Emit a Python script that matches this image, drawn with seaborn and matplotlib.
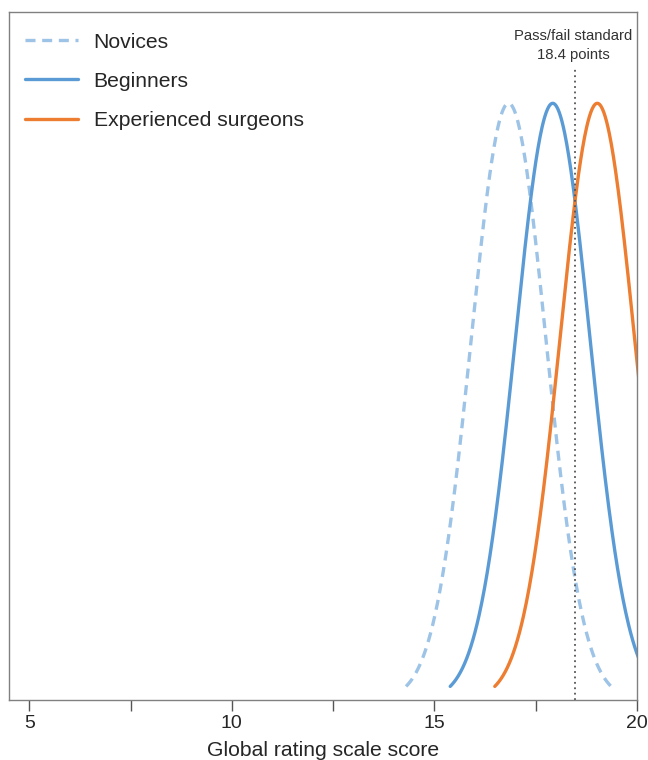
import numpy as np
import pandas as pd
import matplotlib.pyplot as plt
import seaborn as sns

# group score distributions (normal curves, mean / SD)
groups = ["Novices", "Beginners", "Experienced surgeons"]
means = [16.83, 17.92, 19.02]
sds = [0.92, 0.92, 0.92]
half_span = 2.53

pass_fail = 18.48
x_ticks = [5, 10, 15, 20]
x_minor = [7.5, 12.5, 17.5]

colors = {"Novices": "#9DC3E6", "Beginners": "#5B9BD5", "Experienced surgeons": "#ED7D31"}

rows = []
for g, m, s in zip(groups, means, sds):
    xs = np.linspace(m - half_span, m + half_span, 300)
    ys = np.exp(-0.5 * ((xs - m) / s) ** 2) / (s * np.sqrt(2 * np.pi))
    rows.append(pd.DataFrame({"score": xs, "density": ys, "group": g}))
df = pd.concat(rows, ignore_index=True)

sns.set_style("white")
plt.rcParams["font.family"] = ["Liberation Sans", "DejaVu Sans"]

fig = plt.figure(figsize=(6.48, 7.6), dpi=100)
ax = fig.add_axes([9 / 648, 1 - 700 / 760, 628 / 648, 688 / 760])

sns.lineplot(
    data=df, x="score", y="density", hue="group", style="group",
    hue_order=groups, style_order=groups, palette=colors,
    dashes={"Novices": (3, 2), "Beginners": "", "Experienced surgeons": ""},
    linewidth=2.4, ax=ax, sort=False, estimator=None,
)

ax.plot([pass_fail, pass_fail], [0, 0.459], color="#555555", lw=1.3,
        linestyle=(0, (1, 2)), clip_on=False)
ax.text(pass_fail - 0.05, 0.464, "Pass/fail standard\n18.4 points", ha="center",
        va="bottom", fontsize=10.7, color="#333333", linespacing=1.4)

ax.set_xlim(4.5, 20)
ax.set_ylim(0, 0.5)
ax.set_xticks(x_ticks)
ax.set_xticks(x_minor, minor=True)
ax.set_yticks([])
ax.tick_params(axis="x", which="both", direction="out", length=8, width=1,
               color="#555555", labelsize=14, pad=3, bottom=True)
for sp in ax.spines.values():
    sp.set_color("#808080")
    sp.set_linewidth(1)
ax.set_xlabel("Global rating scale score", fontsize=15.2, labelpad=6)
ax.set_ylabel("")

leg = ax.legend(loc="upper left", frameon=False, fontsize=15.2, handlelength=2.5,
                labelspacing=0.95, handletextpad=0.75, borderaxespad=0.0,
                bbox_to_anchor=(0.012, 0.982))

fig.savefig("out.png", dpi=100)
